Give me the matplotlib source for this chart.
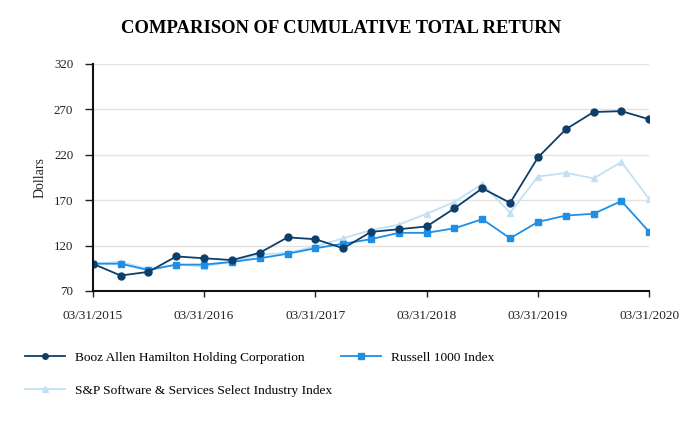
import matplotlib
matplotlib.use("Agg")
import matplotlib.pyplot as plt

quarters = list(range(21))
tick_pos = [0, 4, 8, 12, 16, 20]
tick_labels = ['03/31/2015', '03/31/2016', '03/31/2017', '03/31/2018', '03/31/2019', '03/31/2020']

booz = [100, 87, 91, 108, 106, 104, 112, 129, 127, 117, 135, 138, 141, 161, 183,
        167, 217, 248, 267, 268, 259]
russell = [100, 100, 93, 99, 99, 102, 106, 111, 117, 122, 127, 134, 134, 139, 149,
           128, 146, 153, 155, 169, 135]
snp = [100, 102, 94, 99, 97, 102, 110, 112, 119, 128, 137, 143, 155, 168, 188,
       156, 196, 200, 194, 212, 171]

plt.rcParams['font.family'] = ['Liberation Serif', 'DejaVu Serif']

fig = plt.figure(figsize=(6.82, 4.26), dpi=100)
ax = fig.add_axes([0.136, 0.317, 0.816, 0.533])

c_booz = '#0d3f6b'
c_rus = '#1f8fe6'
c_snp = '#c2e1f5'

l3, = ax.plot(quarters, snp, color=c_snp, lw=1.3, marker='^', ms=5, label='S&P Software & Services Select Industry Index')
l2, = ax.plot(quarters, russell, color=c_rus, lw=1.3, marker='s', ms=5, label='Russell 1000 Index')
l1, = ax.plot(quarters, booz, color=c_booz, lw=1.3, marker='o', ms=5, label='Booz Allen Hamilton Holding Corporation')

ax.set_xlim(0, 20)
ax.set_ylim(70, 320)
ax.set_yticks([70, 120, 170, 220, 270, 320])
ax.set_xticks(tick_pos)
ax.set_xticklabels(tick_labels)
ax.tick_params(axis='x', labelsize=9.5, length=4.3, width=1, colors='#222222', pad=9.5)
ax.tick_params(axis='y', labelsize=9.3, length=6, width=1, colors='#222222', pad=8)
ax.grid(axis='y', color='#e3e3e3', lw=1)
ax.set_axisbelow(True)
for s in ['top', 'right']:
    ax.spines[s].set_visible(False)
for s in ['left', 'bottom']:
    ax.spines[s].set_linewidth(1.5)
    ax.spines[s].set_color('#111111')
for lab in ax.get_xticklabels() + ax.get_yticklabels():
    lab.set_color('#222222')
ax.set_ylabel('Dollars', fontsize=10, color='#222222', labelpad=5)

fig.text(0.5, 0.933, 'COMPARISON OF CUMULATIVE TOTAL RETURN', ha='center', va='center',
         fontsize=13.4, fontweight='bold')

fig.legend([l1, l3], [l1.get_label(), l3.get_label()], loc='upper left',
           bbox_to_anchor=(0.029, 0.188), frameon=False, fontsize=9.6,
           handlelength=3.0, labelspacing=1.55, handletextpad=0.75, markerscale=0.8,
           borderaxespad=0)
fig.legend([l2], [l2.get_label()], loc='upper left', bbox_to_anchor=(0.492, 0.188),
           frameon=False, fontsize=9.6, handlelength=3.0, handletextpad=0.75,
           markerscale=0.8, borderaxespad=0)

fig.savefig('out.png', dpi=100)
